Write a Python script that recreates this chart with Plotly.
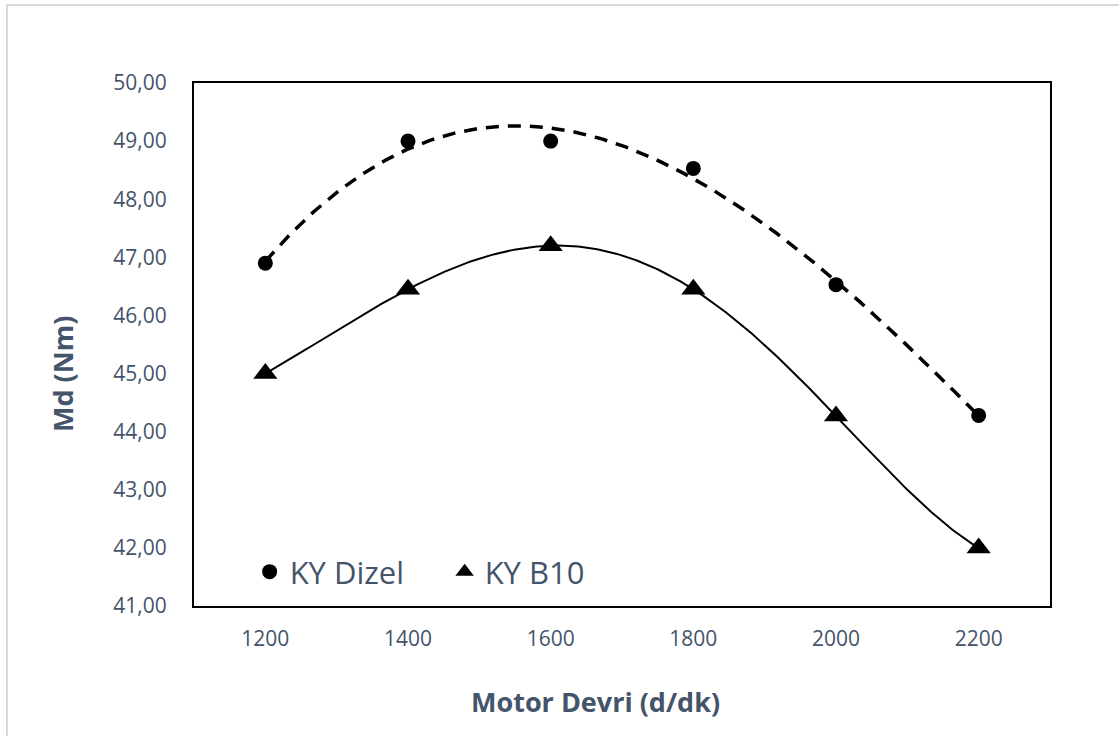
import numpy as np
import plotly.graph_objects as go

# Engine speed (rpm) and torque readings
devir = [1200, 1400, 1600, 1800, 2000, 2200]
md_dizel = [46.90, 49.00, 49.00, 48.53, 46.53, 44.28]
md_b10 = [45.00, 46.45, 47.20, 46.45, 44.27, 42.00]

y_ticks = [41, 42, 43, 44, 45, 46, 47, 48, 49, 50]

text_color = "#44546A"
font_family = "Open Sans"

# Polynomial trendlines: 3rd order for diesel, 5th order for B10
x_fit = np.linspace(devir[0], devir[-1], 300)
xs = (np.array(devir) - 1700) / 500.0
xf = (x_fit - 1700) / 500.0
fit_dizel = np.polyval(np.polyfit(xs, md_dizel, 3), xf)
fit_b10 = np.polyval(np.polyfit(xs, md_b10, 5), xf)

fig = go.Figure()

fig.add_trace(go.Scatter(
    x=x_fit, y=fit_dizel, mode="lines",
    line=dict(color="black", width=3.5, dash="13px,9px"),
    showlegend=False, hoverinfo="skip",
))
fig.add_trace(go.Scatter(
    x=x_fit, y=fit_b10, mode="lines",
    line=dict(color="black", width=2),
    showlegend=False, hoverinfo="skip",
))
fig.add_trace(go.Scatter(
    x=devir, y=md_dizel, mode="markers", name="KY Dizel",
    marker=dict(symbol="circle", size=15, color="black"),
))
fig.add_trace(go.Scatter(
    x=devir, y=md_b10, mode="markers", name="KY B10",
    marker=dict(symbol="triangle-up", size=21, color="black"),
))

fig.update_layout(
    width=1119, height=736,
    margin=dict(l=194, r=69, t=83, b=130),
    paper_bgcolor="white", plot_bgcolor="white",
    separators=",.",
    font=dict(family=font_family, color=text_color, size=21),
    showlegend=True,
    legend=dict(
        orientation="h", x=0.065, y=0.065, xanchor="left", yanchor="middle",
        font=dict(size=31, color=text_color), bgcolor="rgba(0,0,0,0)",
        itemwidth=30, entrywidth=150,
    ),
    xaxis=dict(
        range=[1100, 2300], tickvals=devir, ticktext=[str(v) for v in devir],
        showgrid=False, zeroline=False,
        showline=True, linecolor="black", linewidth=2, mirror=True,
        ticks="", ticklabelstandoff=13,
        tickfont=dict(size=21, color=text_color),
    ),
    yaxis=dict(
        range=[41, 50], tickvals=y_ticks, tickformat=".2f",
        showgrid=False, zeroline=False,
        showline=True, linecolor="black", linewidth=2, mirror=True,
        ticks="", ticklabelstandoff=21,
        tickfont=dict(size=21, color=text_color),
    ),
    annotations=[
        dict(text="<b>Motor Devri (d/dk)</b>", xref="paper", yref="paper",
             x=(595 - 194) / 856, y=(606 - 701) / 523,
             xanchor="center", yanchor="middle", showarrow=False,
             font=dict(size=27, color=text_color)),
        dict(text="<b>Md (Nm)</b>", xref="paper", yref="paper",
             x=(63 - 194) / 856, y=(606 - 374) / 523, textangle=-90,
             xanchor="center", yanchor="middle", showarrow=False,
             font=dict(size=27, color=text_color)),
    ],
    shapes=[dict(
        type="rect", xref="paper", yref="paper",
        x0=(7 - 194) / 856, x1=(1125 - 194) / 856,
        y0=(606 - 745) / 523, y1=(606 - 5) / 523,
        line=dict(color="#D9D9D9", width=2), fillcolor="rgba(0,0,0,0)",
        layer="below",
    )],
)

fig.write_html("out.html")
